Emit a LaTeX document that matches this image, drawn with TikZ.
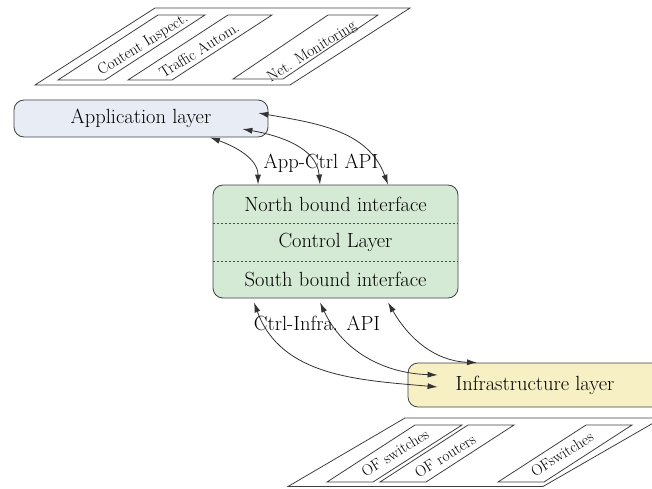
\documentclass[tikz,border=0pt]{standalone}
\usepackage{fontspec}
\usetikzlibrary{arrows.meta,positioning}
\definecolor{appfill}{HTML}{E8ECF5}
\definecolor{ctrlfill}{HTML}{D5EAD5}
\definecolor{infrafill}{HTML}{F6F0C4}
\tikzset{
  layer/.style={draw=black!75, rounded corners=10pt, line width=0.8pt, font=\fontsize{20.5}{24}\selectfont},
  lbl/.style={font=\fontsize{20.5}{24}\selectfont},
  slab/.style={font=\fontsize{15.5}{18}\selectfont, rotate=32, inner sep=0pt},
  plane/.style={draw=black!75, line width=0.8pt},
  divider/.style={draw=black!70, dash pattern=on 2pt off 2pt, line width=0.7pt},
  api/.style={<->, >={Latex[length=10pt,width=6pt]}, line width=0.8pt, draw=black!80},
}
\begin{document}
\begin{tikzpicture}[x=1pt,y=1pt]
    \useasboundingbox (0,0) rectangle (652,488);
    \clip (0,0) rectangle (652,488);

    % application planes
    \draw[plane] (35,403) -- (155,480) -- (410,480) -- (290,403) -- cycle;
    \draw[plane] (58,408) -- (105,408) -- (205,473) -- (158,473) -- cycle;
    \draw[plane] (128,408) -- (172,408) -- (272,473) -- (228,473) -- cycle;
    \draw[plane] (233,409) -- (283,409) -- (378,473) -- (328,473) -- cycle;
    \node (ci) [slab] at (143,443) {Content Inspect.};
    \node (ta) [slab] at (199,438) {Traffic Autom.};
    \node (nm) [slab] at (312,436) {Net. Monitoring};

    % infrastructure planes
    \draw[plane] (288,1.5) -- (405,70) -- (662,70) -- (543,1.5) -- cycle;
    \draw[plane] (327,6) -- (373,6) -- (462,63) -- (415,63) -- cycle;
    \draw[plane] (380,6) -- (426,6) -- (514,63) -- (468,63) -- cycle;
    \draw[plane] (498,6) -- (544,6) -- (632,63) -- (586,63) -- cycle;
    \node (ofs) [slab] at (395,35) {OF switches};
    \node (ofr) [slab] at (445,32) {OF routers};
    \node (ofs2) [slab] at (562,34) {OFswitches};

    % layers
    \node (app) [layer, fill=appfill, minimum width=254pt, minimum height=37pt] at (141,369.5) {Application layer};
    \node (ctrl) [layer, fill=ctrlfill, minimum width=245pt, minimum height=113pt] at (335.5,246.5) {};
    \node (cl) [lbl] at ([yshift=-1pt]ctrl.center) {Control Layer};
    \node (nbi) [lbl] at ([yshift=37pt]ctrl.center) {North bound interface};
    \node (sbi) [lbl] at ([yshift=-38pt]ctrl.center) {South bound interface};
    \draw[divider] ([yshift=18.5pt]ctrl.west) -- ([yshift=18.5pt]ctrl.east);
    \draw[divider] ([yshift=-19.5pt]ctrl.west) -- ([yshift=-19.5pt]ctrl.east);
    \node (infra) [layer, fill=infrafill, minimum width=254pt, minimum height=44pt] at (535,103) {Infrastructure layer};

    % App-Ctrl API
    \draw[api] ([xshift=69pt]app.south) to[out=-20,in=90] ([xshift=-77.5pt]ctrl.north);
    \draw[api] ([shift={(-26,-10.5)}]app.east) to[out=-10,in=95] ([xshift=-15.5pt]ctrl.north);
    \draw[api] ([shift={(-10,5.5)}]app.east) to[out=-10,in=110] ([xshift=52.5pt]ctrl.north);
    \node (acapi) [lbl] at (321,325) {App-Ctrl API};

    % Ctrl-Infra API
    \draw[api] ([shift={(-81.5,-4)}]ctrl.south) to[out=-70,in=175] ([shift={(30,-2)}]infra.west);
    \draw[api] ([shift={(-15.5,-4)}]ctrl.south) to[out=-65,in=178] ([shift={(30,10)}]infra.west);
    \draw[api] ([shift={(52.5,-4)}]ctrl.south) to[out=-60,in=178] ([xshift=-58pt]infra.north);
    \node (ciapi) [lbl] at (317,165) {Ctrl-Infra. API};

\end{tikzpicture}
\end{document}
